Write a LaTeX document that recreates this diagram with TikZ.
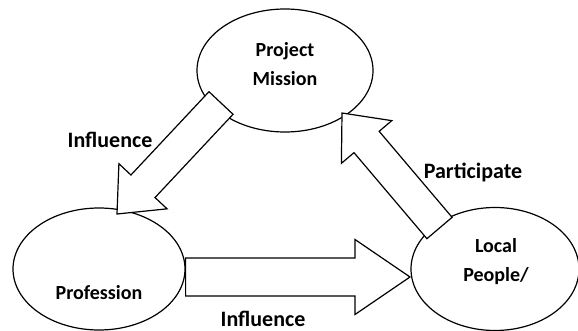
\documentclass[tikz,border=0pt]{standalone}
\usepackage{fontspec}
\setmainfont{Carlito}
\usepackage{tikz}
\usetikzlibrary{calc,shapes.geometric}
\tikzset{
  oval/.style={draw=black, ellipse, line width=1.2pt, fill=white, inner sep=0pt},
  barrow/.style={draw=black, fill=white, line width=1.2pt, line join=miter},
  intxt/.style={font=\fontsize{20}{29}\selectfont\bfseries, align=center, inner sep=0pt},
  labm/.style={font=\fontsize{22}{26}\selectfont\bfseries, inner sep=0pt}
}
% block arrow: from, to, shaft half width, head half width, head length
\newcommand{\blockarrow}[5]{%
  \coordinate (ba-h) at ($(#2)!#5!(#1)$);
  \draw[barrow] ($(#1)!#3!90:(#2)$) -- ($(ba-h)!#3!90:(#2)$) -- ($(ba-h)!#4!90:(#2)$)
    -- (#2) -- ($(ba-h)!#4!-90:(#2)$) -- ($(ba-h)!#3!-90:(#2)$) -- ($(#1)!#3!-90:(#2)$) -- cycle;
}

\begin{document}
\begin{tikzpicture}[x=1pt, y=-1pt]
  \useasboundingbox (0,0) rectangle (578,331);

  % the three ellipses
  \node[oval, minimum width=176pt, minimum height=123pt] (mission) at (285,70.5) {};
  \node[oval, minimum width=172pt, minimum height=122pt] (prof) at (99,269) {};
  \node[oval, minimum width=168pt, minimum height=123pt] (local) at (495,269) {};

  % arrow ends
  \coordinate (m-out) at (221,103);
  \coordinate (p-in) at (117,214);
  \coordinate (l-out) at (439.5,228);
  \coordinate (m-in) at (342,113);
  \coordinate (p-out) at ([yshift=-8pt]prof.east);
  \coordinate (l-in) at (410,277);

  \blockarrow{m-out}{p-in}{16.5pt}{33pt}{38pt}
  \blockarrow{l-out}{m-in}{16.5pt}{33pt}{38pt}
  \blockarrow{p-out}{l-in}{19pt}{37.5pt}{55pt}

  % texts
  \node[intxt] (missionT) at (285,64) {Project\\Mission};
  \node[intxt] (profT) at (99,293) {Profession};
  \node[intxt] (localT) at (496,262) {Local\\People/};

  \node[labm] (infl1) at (110,140) {Influence};
  \node[labm] (part) at (473,172) {Participate};
  \node[labm] (infl2) at (263,319) {Influence};
\end{tikzpicture}
\end{document}
